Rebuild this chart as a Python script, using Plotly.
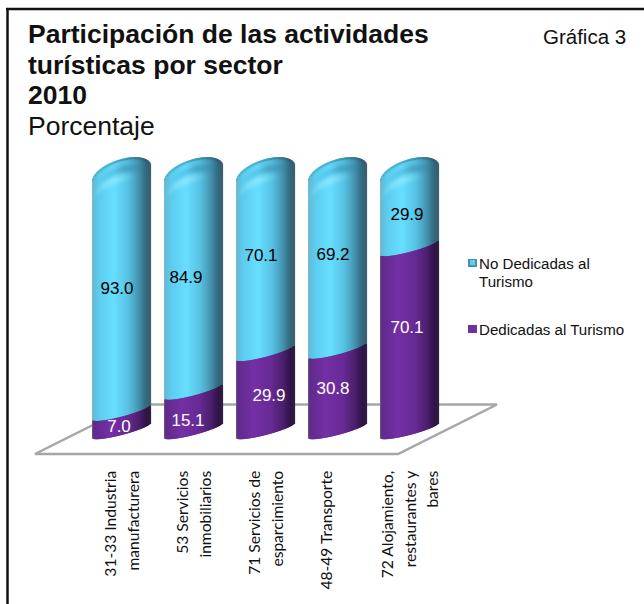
import numpy as np
import plotly.graph_objects as go

categories = ["31-33 Industria<br>manufacturera", "53 Servicios<br>inmobiliarios",
              "71 Servicios de<br>esparcimiento", "48-49 Transporte<br>\u00a0",
              "72 Alojamiento,<br>restaurantes y<br>bares"]
dedicadas = [7.0, 15.1, 29.9, 30.8, 70.1]
no_dedicadas = [93.0, 84.9, 70.1, 69.2, 29.9]
serie_dedicadas = "Dedicadas al Turismo"
serie_no_dedicadas = "No Dedicadas al<br>Turismo"

W, H = 644, 604
L, R, T, B = 30, 510, 150, 460      # plot area in px
PX_X = 72.0                         # px per category
PX_Y = 2.61                         # px per percent
X0_PX, Y0_PX = 122.0, 438.0         # px of category 0 and of value 0
BAR_PX = 58.0
N = 58

def dx(px): return (px - X0_PX) / PX_X
def dy(px): return (Y0_PX - px) / PX_Y
def paper_x(px): return (px - L) / (R - L)
def paper_y(px): return (B - px) / (B - T)

def lerp_palette(t, stops):
    ts = [s[0] for s in stops]
    cs = np.array([s[1] for s in stops], float)
    return "rgb(%d,%d,%d)" % tuple(np.interp(t, ts, cs[:, i]) for i in range(3))

BLUE = [(0, (150, 180, 190)), (.03, (95, 190, 220)), (.12, (92, 205, 238)), (.38, (104, 222, 255)),
        (.62, (88, 195, 228)), (.8, (70, 150, 178)), (.93, (50, 105, 128)), (1, (60, 95, 112))]
PURPLE = [(0, (110, 95, 125)), (.03, (96, 42, 140)), (.3, (116, 48, 165)), (.6, (104, 42, 150)),
          (.8, (78, 32, 112)), (.95, (45, 20, 68)), (1, (50, 30, 70))]

ts = (np.arange(N) + .5) / N
arc = np.sqrt(1 - (2 * ts - 1) ** 2)
low = (15 * ts - 4.5 * arc) / PX_Y           # lower elliptical edge, in percent units
top = (-4 + 15 * ts + 14.5 * arc) / PX_Y     # upper dome, in percent units
strip_w = 1.2 * BAR_PX / N / PX_X

xs, b1, h1, b2, h2, c1, c2 = [], [], [], [], [], [], []
for i in range(len(categories)):
    for j, t in enumerate(ts):
        xs.append(i + (t - .5) * BAR_PX / PX_X)
        b1.append(low[j]); h1.append(dedicadas[i])
        b2.append(dedicadas[i] + low[j])
        h2.append(no_dedicadas[i] + top[j] - low[j])
        c1.append(lerp_palette(t, PURPLE))
        c2.append(lerp_palette(t, BLUE))

fig = go.Figure()
fig.add_bar(name=serie_no_dedicadas.replace("<br>", " "), x=xs, y=h2, base=b2, width=strip_w,
            marker=dict(color=c2, line_width=0), showlegend=False, hoverinfo="skip")
fig.add_bar(name=serie_dedicadas, x=xs, y=h1, base=b1, width=strip_w,
            marker=dict(color=c1, line_width=0), showlegend=False, hoverinfo="skip")

# soft dome shading, painted cell by cell over the top of each cylinder
def gauss(v, m, s): return np.exp(-((v - m) / s) ** 2)
cx, cc, cb, ch = [], [], [], []
CELL = 2.0
for i in range(len(categories)):
    tot = dedicadas[i] + no_dedicadas[i]
    for j, t in enumerate(ts[::2]):
        x = i + (t - .5) * BAR_PX / PX_X
        k = j * 2
        for d in np.arange(0, 30, CELL):
            dark = .45 * gauss(d, 9.5, 4.5) * gauss(t, .58, .28)
            bright = .65 * gauss(d, 18, 4.5) * gauss(t, .33, .24)
            edge = (.2 + .55 * t) * gauss(d, 0, 1.6)
            for col, a in (((45, 125, 160), dark), ((150, 238, 255), bright), ((45, 90, 110), edge)):
                if a > .03:
                    cx.append(x); cb.append(tot + top[k] - (d + CELL) / PX_Y)
                    ch.append(CELL / PX_Y); cc.append("rgba(%d,%d,%d,%.2f)" % (*col, a))
fig.add_bar(x=cx, y=ch, base=cb, width=2 * BAR_PX / N / PX_X, marker=dict(color=cc, line_width=0),
            showlegend=False, hoverinfo="skip")

# data labels: px nudges relative to the middle of each segment
no_dx, no_dy = [-5, -8, -5, -5, -3], [9, 9, 12, 12, 0]
de_dx, de_dy = [-3, -6, 3, -5, -3], [1, -3, 2, 8, 18]
fig.add_scatter(x=[i + no_dx[i] / PX_X for i in range(5)],
                y=[dedicadas[i] + no_dedicadas[i] / 2 + no_dy[i] / PX_Y for i in range(5)],
                mode="text", text=["%.1f" % v for v in no_dedicadas], showlegend=False, hoverinfo="skip",
                textfont=dict(family="Liberation Sans", size=17, color="black"))
fig.add_scatter(x=[i + de_dx[i] / PX_X for i in range(5)],
                y=[dedicadas[i] / 2 + de_dy[i] / PX_Y for i in range(5)],
                mode="text", text=["%.1f" % v for v in dedicadas], showlegend=False, hoverinfo="skip",
                textfont=dict(family="Liberation Sans", size=17, color="white"))

floor = "M%f,%f L%f,%f L%f,%f L%f,%f Z" % (dx(35), dy(454), dx(398), dy(454), dx(497), dy(404.5), dx(134), dy(404.5))
shapes = [
    dict(type="path", path=floor, xref="x", yref="y", layer="below",
         line=dict(color="#a6a6a6", width=2.5), fillcolor="white"),
    dict(type="line", xref="paper", yref="paper", x0=paper_x(7.5), x1=paper_x(7.5), y0=paper_y(8), y1=paper_y(604),
         line=dict(color="#111111", width=2.5)),
    dict(type="line", xref="paper", yref="paper", x0=paper_x(6), x1=paper_x(644), y0=paper_y(9), y1=paper_y(9),
         line=dict(color="#111111", width=2.5)),
    dict(type="rect", xref="paper", yref="paper", x0=paper_x(468), x1=paper_x(477), y0=paper_y(259), y1=paper_y(267),
         line_width=0, fillcolor="#3f93b5"),
    dict(type="rect", xref="paper", yref="paper", x0=paper_x(470), x1=paper_x(475), y0=paper_y(260), y1=paper_y(265),
         line_width=0, fillcolor="#66cfee"),
    dict(type="rect", xref="paper", yref="paper", x0=paper_x(468), x1=paper_x(477), y0=paper_y(325), y1=paper_y(333),
         line_width=0, fillcolor="#7030a0"),
]

TXT = "Liberation Sans"
def sized(text, px):
    return "<br>".join('<span style="font-size:%spx">%s</span>' % (px, p) for p in text.split("<br>"))

annotations = [
    dict(text="Gráfica 3", xref="paper", yref="paper", x=paper_x(541), y=paper_y(36), xanchor="left", yanchor="middle",
         showarrow=False, font=dict(family=TXT, size=20.5, color="#111111")),
    dict(text=sized(serie_no_dedicadas, 15.1), xref="paper", yref="paper", x=paper_x(477), y=paper_y(272.5), xanchor="left",
         yanchor="middle", align="left", showarrow=False, font=dict(family=TXT, size=14, color="#111111")),
    dict(text=sized(serie_dedicadas, 15.1), xref="paper", yref="paper", x=paper_x(477), y=paper_y(329), xanchor="left",
         yanchor="middle", align="left", showarrow=False, font=dict(family=TXT, size=14, color="#111111")),
]

ticks = [sized(c, 15.6) for c in categories]
title_bold = ["Participación de las actividades", "turísticas por sector", "2010"]
title_sub = "Porcentaje"
title_text = "<br>".join(['<span style="font-size:26.5px"><b>%s</b></span>' % p for p in title_bold]
                         + ['<span style="font-size:26.5px">%s</span>' % title_sub])

fig.update_layout(
    width=W, height=H, barmode="overlay", paper_bgcolor="white", plot_bgcolor="rgba(0,0,0,0)",
    margin=dict(l=L, r=W - R, t=T, b=H - B, pad=0), showlegend=False,
    title=dict(text=title_text, xref="container", yref="container", x=28 / W, xanchor="left",
               y=1 - 43 / H, yanchor="top", font=dict(family=TXT, size=23.6, color="#111111")),
    xaxis=dict(range=[dx(L), dx(R)], tickmode="array", tickvals=list(range(5)), ticktext=ticks, tickangle=-90,
               ticks="outside", ticklen=3, tickcolor="rgba(0,0,0,0)", showgrid=False, zeroline=False, showline=False,
               tickfont=dict(family="Lato", size=17, color="#111111")),
    yaxis=dict(range=[dy(B), dy(T)], visible=False),
    shapes=shapes, annotations=annotations,
)
fig.write_html("out.html", config=dict(displayModeBar=False), post_script="document.body.style.margin='0';")
